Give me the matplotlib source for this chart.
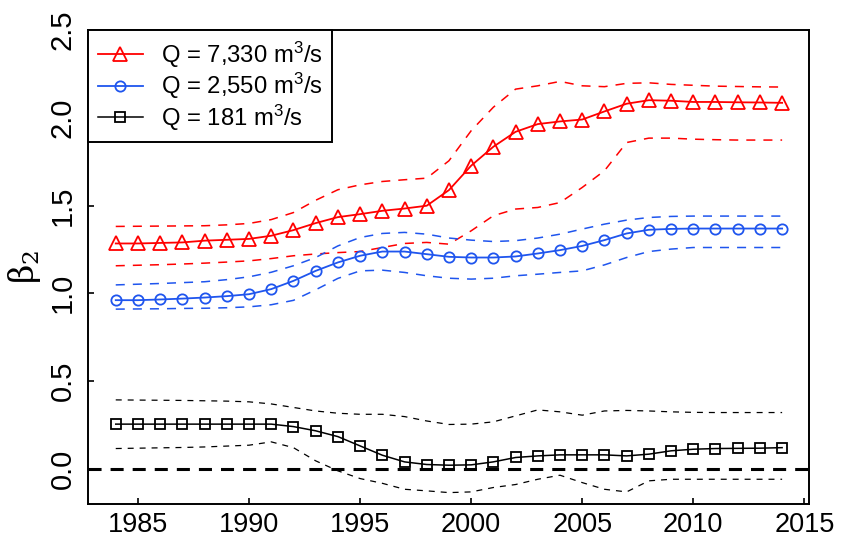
import matplotlib
matplotlib.use('Agg')
import matplotlib.pyplot as plt
import numpy as np

plt.rcParams['font.family'] = ['Liberation Sans', 'DejaVu Sans']
plt.rcParams['mathtext.fontset'] = 'custom'
plt.rcParams['mathtext.rm'] = 'Liberation Sans'
plt.rcParams['mathtext.default'] = 'regular'
plt.rcParams['lines.scale_dashes'] = False

# data
years = np.arange(1984, 2015)

q7330 = [1.284, 1.284, 1.287, 1.290, 1.300, 1.305, 1.310, 1.328, 1.360, 1.400,
         1.434, 1.451, 1.470, 1.483, 1.499, 1.588, 1.727, 1.835, 1.920, 1.964,
         1.979, 1.990, 2.036, 2.080, 2.100, 2.097, 2.090, 2.090, 2.088, 2.087, 2.085]
q7330_hi = [1.381, 1.382, 1.383, 1.384, 1.385, 1.390, 1.398, 1.420, 1.460, 1.530,
            1.590, 1.618, 1.637, 1.647, 1.656, 1.755, 1.926, 2.060, 2.163, 2.182,
            2.207, 2.182, 2.177, 2.196, 2.199, 2.190, 2.185, 2.180, 2.178, 2.176, 2.175]
q7330_lo = [1.157, 1.160, 1.163, 1.167, 1.172, 1.178, 1.185, 1.198, 1.214, 1.224,
            1.232, 1.238, 1.261, 1.284, 1.290, 1.280, 1.356, 1.442, 1.480, 1.489,
            1.517, 1.603, 1.698, 1.859, 1.884, 1.884, 1.878, 1.875, 1.873, 1.873, 1.873]

q2550 = [0.961, 0.961, 0.965, 0.970, 0.976, 0.984, 0.995, 1.024, 1.071, 1.128,
         1.176, 1.214, 1.238, 1.238, 1.223, 1.208, 1.204, 1.204, 1.210, 1.227,
         1.246, 1.270, 1.303, 1.341, 1.362, 1.367, 1.369, 1.369, 1.369, 1.369, 1.369]
q2550_hi = [1.048, 1.052, 1.056, 1.061, 1.066, 1.078, 1.094, 1.120, 1.157, 1.204,
            1.270, 1.318, 1.341, 1.347, 1.337, 1.315, 1.303, 1.295, 1.300, 1.315,
            1.337, 1.366, 1.394, 1.417, 1.432, 1.438, 1.440, 1.440, 1.440, 1.440, 1.440]
q2550_lo = [0.910, 0.911, 0.912, 0.914, 0.915, 0.918, 0.923, 0.935, 0.960, 1.020,
            1.085, 1.128, 1.132, 1.119, 1.100, 1.086, 1.081, 1.086, 1.100, 1.109,
            1.119, 1.128, 1.162, 1.204, 1.238, 1.252, 1.261, 1.261, 1.261, 1.261, 1.261]

q181 = [0.255, 0.255, 0.255, 0.255, 0.255, 0.255, 0.255, 0.255, 0.241, 0.217,
        0.184, 0.131, 0.078, 0.040, 0.025, 0.021, 0.023, 0.040, 0.065, 0.074,
        0.080, 0.080, 0.080, 0.074, 0.084, 0.103, 0.112, 0.116, 0.117, 0.118, 0.121]
q181_hi = [0.393, 0.392, 0.391, 0.390, 0.388, 0.386, 0.382, 0.370, 0.350, 0.330,
           0.317, 0.311, 0.311, 0.298, 0.273, 0.253, 0.255, 0.268, 0.302, 0.336,
           0.325, 0.306, 0.330, 0.333, 0.330, 0.325, 0.322, 0.321, 0.321, 0.321, 0.321]
q181_lo = [0.116, 0.118, 0.120, 0.122, 0.125, 0.130, 0.135, 0.154, 0.121, 0.046,
           -0.011, -0.055, -0.082, -0.116, -0.125, -0.135, -0.131, -0.106, -0.089, -0.059,
           -0.036, -0.078, -0.116, -0.131, -0.068, -0.059, -0.059, -0.059, -0.059, -0.059, -0.059]

labels = ['Q = 7,330 m$^3$/s', 'Q = 2,550 m$^3$/s', 'Q = 181 m$^3$/s']

red = '#ff0000'
blue = '#1f55ee'
black = '#000000'

fig = plt.figure(figsize=(8.46, 5.43), dpi=100)
ax = fig.add_axes([0.104, 0.0718, 0.852, 0.873])

# zero reference line
ax.axhline(0, color=black, lw=2.2, dashes=(9.4, 6.5), zorder=1)

# confidence bands
band_dash = (6.5, 5.8)
ax.plot(years, q7330_hi, color=red, lw=1.1, dashes=band_dash)
ax.plot(years, q7330_lo, color=red, lw=1.1, dashes=band_dash)
ax.plot(years, q2550_hi, color=blue, lw=1.1, dashes=band_dash)
ax.plot(years, q2550_lo, color=blue, lw=1.1, dashes=band_dash)
ax.plot(years, q181_hi, color=black, lw=0.9, dashes=(4.3, 4.3))
ax.plot(years, q181_lo, color=black, lw=0.9, dashes=(4.3, 4.3))

# estimates
ax.plot(years, q7330, color=red, lw=1.3, marker='^', ms=10,
        mfc='none', mec=red, mew=1.3, label=labels[0])
ax.plot(years, q2550, color=blue, lw=1.3, marker='o', ms=7.4,
        mfc='none', mec=blue, mew=1.3, label=labels[1])
ax.plot(years, q181, color=black, lw=1.1, marker='s', ms=6.7,
        mfc='none', mec=black, mew=1.3, label=labels[2])

ax.set_xlim(1982.75, 2015.2)
ax.set_ylim(-0.2, 2.5)
ax.set_xticks(np.arange(1985, 2016, 5))
ax.set_yticks(np.arange(0, 2.51, 0.5))
ax.set_yticklabels([f'{v:.1f}' for v in np.arange(0, 2.51, 0.5)],
                   rotation=90, va='center')
ax.tick_params(direction='in', length=4, width=1.2)
ax.tick_params(axis='x', pad=6, labelsize=19.5)
ax.tick_params(axis='y', pad=8, labelsize=21)
for s in ax.spines.values():
    s.set_linewidth(1.4)

ax.set_ylabel(r'$\beta_2$', fontsize=24, labelpad=4,
              family=['DejaVu Serif'])

leg = ax.legend(loc='upper left', bbox_to_anchor=(0, 1), borderaxespad=0,
                fontsize=17.2, handlelength=1.9, handletextpad=0.75,
                labelspacing=0.05, borderpad=0.4, fancybox=False,
                framealpha=1)
leg.get_frame().set_edgecolor('black')
leg.get_frame().set_linewidth(1.4)

fig.savefig('out.png', dpi=100)
